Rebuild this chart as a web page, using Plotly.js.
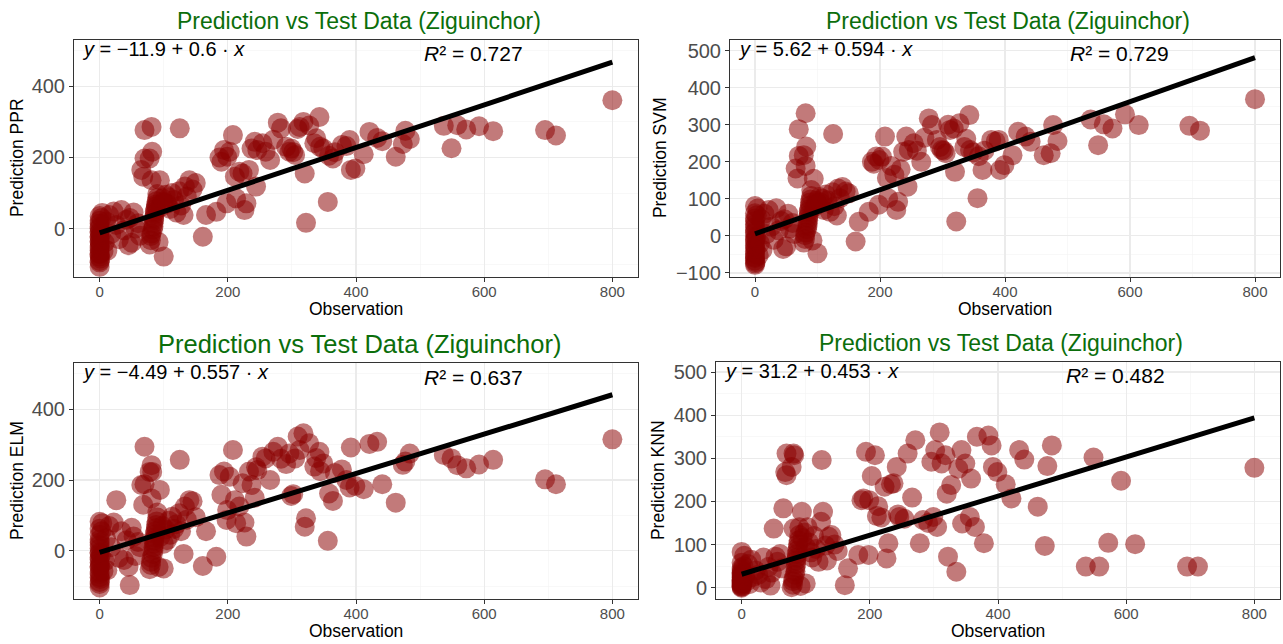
<!DOCTYPE html>
<html>
<head>
<meta charset="utf-8">
<script src="https://cdn.plot.ly/plotly-3.0.1.min.js"></script>
<style>
  html, body { margin: 0; padding: 0; background: #ffffff; }
  #chart { width: 1283px; height: 644px; }
</style>
</head>
<body>
<div id="chart"></div>
<script>
// Test-set observations (shared by every model) and each model's predictions.
const models = ["PPR", "SVM", "ELM", "KNN"];
const chartTitle = "Prediction vs Test Data (Ziguinchor)";
const xTitle = "Observation";

// Fitted regression line for each model: prediction = intercept + slope * observation
const intercepts = [-11.9, 5.62, -4.49, 31.2];
const slopes = [0.6, 0.594, 0.557, 0.453];
const rSquared = ["0.727", "0.729", "0.637", "0.482"];

const observation = [
  // zero / near-zero observations
  0, 0, 0, 0, 0, 0, 0, 0, 0, 0, 0, 0, 0, 0, 0, 0, 0, 0, 0, 0, 1, 1, 2, 3, 4, 6,
  // band around 80-90
  78, 80, 80, 81, 83, 84, 84, 85, 85, 86, 86, 87, 88, 88, 89, 90, 90, 92,
  // low observations
  8, 10, 12, 15, 18, 22, 26, 30, 34, 38, 42, 45, 47, 50, 53, 56, 60, 63,
  // 95-150
  95, 98, 100, 100, 103, 105, 108, 110, 113, 116, 120, 124, 127, 131, 133, 136, 140, 145, 150,
  // low observations with high predictions
  81, 70, 125, 82, 78, 70, 65, 68, 81, 94,
  // larger observations
  800, 712, 695, 614, 592, 572, 558, 549, 537, 484, 477, 473, 462, 441, 433, 421, 412, 399, 392, 390,
  385, 378, 367, 364, 358, 356, 349, 344, 343, 338, 335, 327, 322, 320, 318, 312, 309, 305, 302, 299,
  296, 291, 283, 278, 271, 266, 259, 254, 246, 244, 242, 237, 233, 229, 226, 223, 218, 213, 211, 208,
  203, 199, 194, 190, 187, 198, 182, 166, 161
];

const predPPR = [
  -108, -95, -91, -79, -72, -70, -61, -55, -49, -38, -35, -26, -22, -12, -9, 1, 5, 14, 22, 35, -84, -44, -17, 30, 44, -63,
  -45, -33, -21, -14, -3, 6, 15, 24, 30, 41, 47, 55, 63, 68, 77, 86, 97, -38,
  -40, 20, -62, 38, -15, 48, 10, -30, 52, -5, 25, -47, 30, -40, 45, 0, 15, -20,
  60, 85, 75, -79, 95, 70, 88, 55, 100, 80, 45, 105, 65, 38, 118, 90, 136, 110, 128,
  286, 277, 282, 216, 197, 197, 165, 146, 136, 136,
  361, 262, 277, 274, 288, 279, 291, 226, 289, 252, 275, 238, 202, 246, 255, 272, 209, 169, 165, 249,
  232, 235, 215, 197, 205, 75, 225, 230, 314, 254, 240, 290, 16, 155, 300, 286, 280, 207, 215, 225,
  216, 230, 282, 298, 250, 193, 216, 240, 221, 118, 244, 225, 165, 71, 52, 155, 160, 85, 146, 263,
  216, 202, 221, 188, 200, 71, 47, 38, -23
];

const predSVM = [
  -78, -74, -66, -60, -57, -48, -41, -30, -26, -14, -10, -1, 9, 13, 24, 31, 40, 47, 61, 81, -71, -35, -5, 56, 74, -52,
  -18, -8, 2, 9, 18, 27, 33, 42, 50, 58, 66, 73, 82, 90, 98, 108, 124, -12,
  -20, 45, -38, 60, 5, 70, 25, -10, 75, 15, 40, -35, 45, -28, 60, 20, 35, 5,
  78, 95, 88, -47, 105, 90, 100, 70, 112, 96, 65, 118, 80, 55, 128, 102, 132, 120, 115,
  331, 288, 275, 241, 218, 216, 182, 155, 189, 154,
  369, 284, 297, 299, 328, 290, 301, 245, 314, 256, 299, 223, 218, 254, 268, 281, 218, 191, 178, 259,
  255, 259, 230, 178, 215, 102, 225, 232, 326, 262, 240, 304, 39, 173, 290, 286, 300, 223, 230, 232,
  240, 259, 299, 317, 265, 200, 230, 250, 232, 133, 268, 227, 180, 92, 70, 165, 189, 102, 156, 268,
  214, 205, 214, 195, 200, 84, 65, 38, -15
];

const predELM = [
  -104, -94, -88, -75, -66, -60, -48, -44, -33, -25, -19, -8, -4, 7, 16, 23, 31, 45, 62, 82, -80, -40, -12, 55, 78, -57,
  -52, -40, -31, -20, -9, 2, 10, 21, 29, 38, 47, 56, 64, 73, 83, 94, 108, -46,
  -30, 35, -55, 70, 10, 80, 143, -20, 55, -26, 30, -45, -97, 65, 40, -15, 25, 10,
  40, 70, 20, -50, 60, 30, 85, 45, 96, 62, 75, 106, 55, -9, 125, 88, 143, 140, 95,
  242, 294, 257, 223, 223, 188, 186, 130, 148, 172,
  315, 188, 202, 257, 244, 233, 242, 261, 271, 275, 252, 243, 136, 188, 308, 302, 174, 183, 292, 179,
  200, 230, 220, 141, 162, 28, 247, 225, 280, 262, 238, 304, 92, 68, 332, 285, 323, 261, 160, 155,
  275, 245, 260, 294, 280, 200, 261, 266, 228, 236, 150, 186, 224, 40, 80, 191, 125, 78, 143, 285,
  209, 115, 224, 158, 214, 87, -17, 55, -43
];

const predKNN = [
  0, 3, 2, 5, 9, 7, 12, 16, 14, 20, 18, 24, 27, 30, 36, 33, 41, 46, 58, 83, 10, 22, 12, 50, 74, 28,
  1, 7, 15, 21, 30, 38, 47, 55, 63, 70, 78, 86, 94, 101, 110, 122, 140, 4,
  15, 55, 8, 65, 25, 40, 30, 12, 70, 20, 48, 5, 35, 137, 72, 60, 78, 45,
  115, 128, 95, 10, 140, 105, 82, 70, 120, 90, 60, 153, 176, 98, 63, 118, 122, 100, 85,
  311, 311, 296, 307, 280, 261, 184, 268, 137, 176,
  278, 49, 49, 101, 248, 104, 49, 302, 49, 330, 282, 97, 188, 297, 319, 207, 240, 268, 280, 330,
  353, 103, 350, 141, 253, 164, 288, 149, 319, 276, 37, 238, 72, 218, 307, 288, 360, 141, 319, 164,
  292, 150, 157, 103, 342, 209, 311, 160, 164, 170, 280, 242, 240, 103, 68, 234, 163, 189, 166, 307,
  259, 203, 315, 207, 203, 76, 76, 45, 6
];

const predictions = [predPPR, predSVM, predELM, predKNN];

// Per-panel value axes
const yRanges = [[-135.5, 532], [-110, 530], [-135, 530], [-25, 524]];
const yDticks = [200, 100, 200, 100];

// Panel boxes in page pixels: [left, top, right, bottom]
const W = 1283, H = 644;
const boxes = [
  [74, 39.5, 638, 276.7],
  [730, 39.5, 1280, 276.7],
  [74, 363.3, 638, 598.5],
  [716, 361.7, 1280, 598.5]
];
const titleSizes = [23, 23, 25.5, 23];
// Horizontal centre of each rotated value-axis title
const yTitleX = [17, 660, 17, 658];

const fontFamily = '"Liberation Sans", Arial, Helvetica, sans-serif';
const minus = "\u2212";
const fmtSigned = v => (v < 0 ? minus : "") + Math.abs(v);

const traces = [];
const annotations = [];
const layout = {
  width: W, height: H,
  margin: { l: 0, r: 0, t: 0, b: 0 },
  paper_bgcolor: "#ffffff",
  plot_bgcolor: "#ffffff",
  showlegend: false,
  font: { family: fontFamily, color: "#000000" },
  annotations: annotations
};

const xMin = Math.min(...observation);
const xMax = Math.max(...observation);
const axisTitleFont = { size: 17.5, color: "#000000", family: fontFamily };

models.forEach((m, i) => {
  const k = i === 0 ? "" : String(i + 1);
  const xa = "x" + k, ya = "y" + k;
  const [l, t, r, b] = boxes[i];

  traces.push({
    type: "scatter", mode: "markers",
    x: observation, y: predictions[i],
    xaxis: xa, yaxis: ya,
    marker: { size: 20, color: "#8B0000", opacity: 0.52, line: { width: 0 } },
    hoverinfo: "x+y"
  });

  traces.push({
    type: "scatter", mode: "lines",
    x: [xMin, xMax],
    y: [intercepts[i] + slopes[i] * xMin, intercepts[i] + slopes[i] * xMax],
    xaxis: xa, yaxis: ya,
    line: { color: "#000000", width: 5 },
    hoverinfo: "skip"
  });

  layout["xaxis" + k] = {
    domain: [l / W, r / W], anchor: ya,
    range: [-40, 840], dtick: 200, tick0: 0,
    ticks: "outside", ticklen: 4, tickwidth: 1, tickcolor: "#333333",
    ticklabelstandoff: -3,
    tickfont: { size: 15, color: "#4d4d4d", family: fontFamily },
    showline: true, mirror: true, linecolor: "#333333", linewidth: 1,
    showgrid: true, gridcolor: "#ebebeb", gridwidth: 1.1,
    minor: { showgrid: true, gridcolor: "#f4f4f4", gridwidth: 0.6, dtick: 100, tick0: 0 },
    zeroline: false
  };

  layout["yaxis" + k] = {
    domain: [1 - b / H, 1 - t / H], anchor: xa,
    range: yRanges[i], dtick: yDticks[i], tick0: 0,
    ticks: "outside", ticklen: 4, tickwidth: 1, tickcolor: "#333333",
    tickfont: { size: 20, color: "#4d4d4d", family: fontFamily },
    showline: true, mirror: true, linecolor: "#333333", linewidth: 1,
    showgrid: true, gridcolor: "#ebebeb", gridwidth: 1.1,
    minor: { showgrid: true, gridcolor: "#f4f4f4", gridwidth: 0.6, dtick: yDticks[i] / 2, tick0: 0 },
    zeroline: false
  };

  // Panel title
  annotations.push({
    xref: "paper", yref: "paper",
    x: ((l + r) / 2 + 3) / W, y: 1 - (t - 19) / H,
    xanchor: "center", yanchor: "middle", showarrow: false,
    text: chartTitle,
    font: { size: titleSizes[i], color: "#0b6e0b", family: fontFamily }
  });

  // Axis titles
  annotations.push({
    xref: "paper", yref: "paper",
    x: (l + r) / 2 / W, y: 1 - (b + 32.5) / H,
    xanchor: "center", yanchor: "middle", showarrow: false,
    text: xTitle, font: axisTitleFont
  });
  annotations.push({
    xref: "paper", yref: "paper",
    x: yTitleX[i] / W, y: 1 - (t + b) / 2 / H,
    xanchor: "center", yanchor: "middle", showarrow: false, textangle: -90,
    text: "Prediction " + m, font: axisTitleFont
  });

  // Regression equation
  annotations.push({
    xref: xa + " domain", yref: ya + " domain",
    x: 0.01, y: 1 - 9 / (b - t),
    xanchor: "left", yanchor: "middle", showarrow: false,
    text: "<i>y</i> = " + fmtSigned(intercepts[i]) + " + " + slopes[i] + " · <i>x</i>",
    font: { size: 20, color: "#000000", family: fontFamily }
  });

  // Coefficient of determination
  annotations.push({
    xref: xa + " domain", yref: ya + " domain",
    x: 0.708, y: 1 - 14 / (b - t),
    xanchor: "center", yanchor: "middle", showarrow: false,
    text: "<i>R</i>² = " + rSquared[i],
    font: { size: 21, color: "#000000", family: fontFamily }
  });
});

Plotly.newPlot("chart", traces, layout, { staticPlot: true, displayModeBar: false });
</script>
</body>
</html>
